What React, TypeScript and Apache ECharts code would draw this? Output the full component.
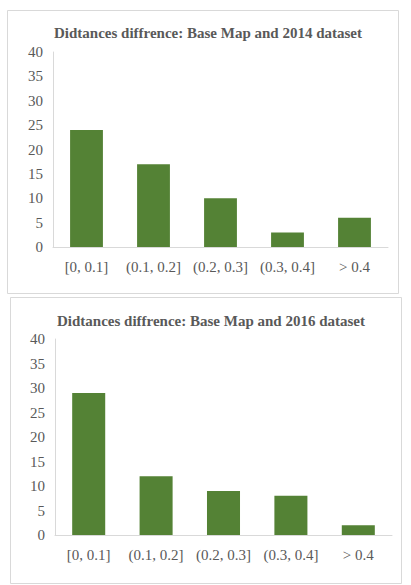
import React, { useEffect, useRef } from "react";
import * as echarts from "echarts";

const categories = ["[0, 0.1]", "(0.1, 0.2]", "(0.2, 0.3]", "(0.3, 0.4]", "> 0.4"];
const values2014 = [24, 17, 10, 3, 6];
const values2016 = [29, 12, 9, 8, 2];
const titles = [
  "Didtances diffrence: Base Map and 2014 dataset",
  "Didtances diffrence: Base Map and 2016 dataset",
];

const FONT = "'Liberation Serif', 'Times New Roman', serif";
const TEXT = "#595959";
const LINE = "#d9d9d9";
const BAR = "#548235";

export default function App() {
  const ref = useRef<HTMLDivElement>(null);
  useEffect(() => {
    if (!ref.current) return;
    const chart = echarts.init(ref.current, undefined, { renderer: "svg" });
    const yAxisBase = {
      type: "value" as const,
      min: 0,
      max: 40,
      interval: 5,
      axisLine: { show: true, lineStyle: { color: LINE, width: 1 } },
      axisTick: { show: false },
      splitLine: { show: false },
      axisLabel: { color: TEXT, fontFamily: FONT, fontSize: 15, margin: 10 },
    };
    const xAxisBase = {
      type: "category" as const,
      data: categories,
      axisLine: { show: true, lineStyle: { color: LINE, width: 1 } },
      axisTick: { show: false },
      axisLabel: { color: TEXT, fontFamily: FONT, fontSize: 15, margin: 12, interval: 0 },
    };
    chart.setOption({
      animation: false,
      backgroundColor: "#ffffff",
      graphic: [
        {
          type: "rect",
          shape: { x: 7.5, y: 10.5, width: 391, height: 283 },
          style: { fill: "#fff", stroke: LINE, lineWidth: 1 },
          z: -10,
        },
        {
          type: "rect",
          shape: { x: 10.5, y: 297.5, width: 391, height: 286 },
          style: { fill: "#fff", stroke: LINE, lineWidth: 1 },
          z: -10,
        },
      ],
      title: [
        {
          text: titles[0],
          left: 203,
          top: 20,
          textAlign: "center",
          textStyle: { color: TEXT, fontFamily: FONT, fontSize: 15, fontWeight: "bold" },
        },
        {
          text: titles[1],
          left: 206,
          top: 308,
          textAlign: "center",
          textStyle: { color: TEXT, fontFamily: FONT, fontSize: 15, fontWeight: "bold" },
        },
      ],
      grid: [
        { left: 53, top: 52, width: 335, height: 195 },
        { left: 55, top: 339, width: 337, height: 196 },
      ],
      xAxis: [
        { ...xAxisBase, gridIndex: 0 },
        { ...xAxisBase, gridIndex: 1 },
      ],
      yAxis: [
        { ...yAxisBase, gridIndex: 0 },
        { ...yAxisBase, gridIndex: 1 },
      ],
      series: [
        {
          type: "bar",
          xAxisIndex: 0,
          yAxisIndex: 0,
          data: values2014,
          barWidth: "49%",
          itemStyle: { color: BAR },
        },
        {
          type: "bar",
          xAxisIndex: 1,
          yAxisIndex: 1,
          data: values2016,
          barWidth: "49%",
          itemStyle: { color: BAR },
        },
      ],
    });
    return () => chart.dispose();
  }, []);
  return (
    <div
      ref={ref}
      style={{ position: "fixed", left: 0, top: 0, width: 411, height: 585 }}
    />
  );
}
